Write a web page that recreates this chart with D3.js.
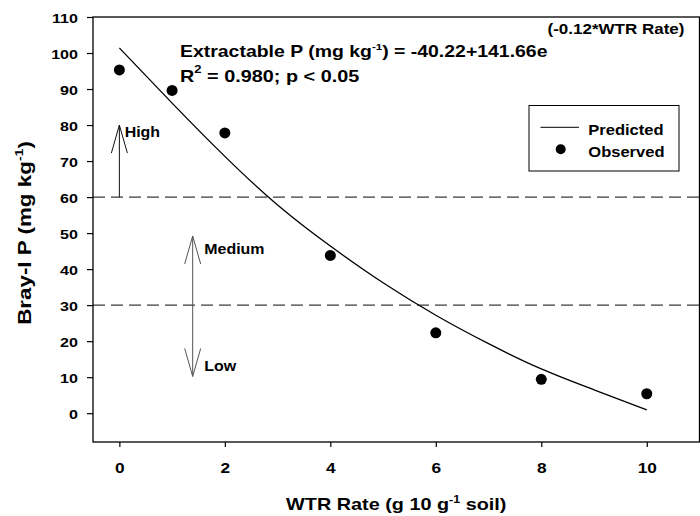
<!DOCTYPE html>
<html>
<head>
<meta charset="utf-8">
<script src="https://cdn.jsdelivr.net/npm/d3@7/dist/d3.min.js"></script>
<style>
  html, body { margin: 0; padding: 0; background: #fff; }
  svg { display: block; }
  text { font-family: "Liberation Sans", Arial, Helvetica, sans-serif; font-weight: bold; fill: #000; }
</style>
</head>
<body>
<svg id="chart" width="700" height="516"></svg>
<script>
// ---------- data ----------
const xTicks = [0, 2, 4, 6, 8, 10];
const yTicks = [0, 10, 20, 30, 40, 50, 60, 70, 80, 90, 100, 110];
const obsRate = [0, 1, 2, 4, 6, 8, 10];
const obsP = [95.3, 89.6, 77.8, 43.8, 22.3, 9.4, 5.4];
const predRate = [0, 1, 2, 3, 4, 5, 6, 7, 8, 9, 10];
const predP = [101.4, 86.1, 71.3, 57.8, 46.4, 36.2, 27.2, 19.3, 12.3, 6.5, 0.9];
const thresholds = [60, 30];
const levelLabels = ["High", "Medium", "Low"];

// ---------- layout ----------
const svg = d3.select("#chart");
const plot = { left: 93, right: 699.5, top: 17, bottom: 442 };
const K = 1.24; // horizontal stretch of the lettering

const x = d3.scaleLinear().domain([-0.5, 11]).range([plot.left, plot.right]);
const y = d3.scaleLinear().domain([-8, 110]).range([plot.bottom, plot.top]);

// text helper: parts = [{t, size, raise}]
function label(parent, px, py, parts, opts) {
  const g = parent.append("g")
    .attr("transform", `translate(${px},${py}) rotate(${opts.rot || 0}) scale(${opts.k || K},1)`);
  const t = g.append("text").attr("text-anchor", opts.anchor || "start")
    .attr("font-size", opts.size);
  let cur = 0;
  parts.forEach(p => {
    const r = p.raise || 0;
    const ts = t.append("tspan").text(p.t).attr("dy", -(r - cur));
    if (p.size) ts.attr("font-size", p.size);
    cur = r;
  });
  return g;
}

// ---------- threshold dashed lines ----------
svg.append("g").selectAll("line").data(thresholds).join("line")
  .attr("x1", plot.left).attr("x2", plot.right)
  .attr("y1", d => y(d)).attr("y2", d => y(d))
  .attr("stroke", "#3a3a3a").attr("stroke-width", 1.2)
  .attr("stroke-dasharray", "12,6");

// ---------- level arrows ----------
function arrowHead(g, xv, yv, dir) {
  // dir = -1 pointing up, +1 pointing down
  const px = x(xv), py = y(yv);
  g.append("path")
    .attr("d", `M${px - 8},${py - dir * 28}L${px},${py}L${px + 8},${py - dir * 28}`)
    .attr("fill", "none");
}
const arrows = svg.append("g").attr("stroke-width", 1);
const aHigh = arrows.append("g").attr("stroke", "#111");
aHigh.append("line").attr("x1", x(0)).attr("x2", x(0)).attr("y1", y(60)).attr("y2", y(80));
arrowHead(aHigh, 0, 80, -1);
const aMid = arrows.append("g").attr("stroke", "#555");
aMid.append("line").attr("x1", x(1.39)).attr("x2", x(1.39)).attr("y1", y(49.2)).attr("y2", y(10.2));
arrowHead(aMid, 1.39, 49.2, -1);
arrowHead(aMid, 1.39, 10.2, 1);

label(svg, x(0.1), y(76.6), [{ t: levelLabels[0] }], { size: 14.5, k: 1.1 });
label(svg, x(1.61), y(44.2), [{ t: levelLabels[1] }], { size: 14.5, k: 1.1 });
label(svg, x(1.61), y(11.7), [{ t: levelLabels[2] }], { size: 14.5, k: 1.1 });

// ---------- predicted curve ----------
const line = d3.line().x((d, i) => x(predRate[i])).y(d => y(d)).curve(d3.curveNatural);
svg.append("path").datum(predP).attr("d", line)
  .attr("fill", "none").attr("stroke", "#000").attr("stroke-width", 1.3);

// ---------- observed points ----------
svg.append("g").selectAll("circle").data(obsP).join("circle")
  .attr("cx", (d, i) => x(obsRate[i])).attr("cy", d => y(d)).attr("r", 5.5)
  .attr("fill", "#000");

// ---------- frame & axes ----------
svg.append("rect")
  .attr("x", plot.left).attr("y", plot.top)
  .attr("width", plot.right - plot.left).attr("height", plot.bottom - plot.top)
  .attr("fill", "none").attr("stroke", "#000").attr("stroke-width", 1.3);

const yAxis = svg.append("g").attr("transform", `translate(${plot.left},0)`)
  .call(d3.axisLeft(y).tickValues(yTicks).tickSize(6).tickSizeOuter(0));
yAxis.select(".domain").remove();
yAxis.selectAll("line").attr("stroke", "#000").attr("stroke-width", 1.2);
yAxis.selectAll("text")
  .attr("font-size", 13).attr("font-family", null)
  .attr("x", -15 / K).attr("dy", "0.4em")
  .attr("transform", `scale(${K},1)`);

const xAxis = svg.append("g").attr("transform", `translate(0,${plot.bottom})`)
  .call(d3.axisBottom(x).tickValues(xTicks).tickSize(5).tickSizeOuter(0));
xAxis.select(".domain").remove();
xAxis.selectAll("line").attr("stroke", "#000").attr("stroke-width", 1.2);
xAxis.selectAll("text")
  .attr("font-size", 15).attr("font-family", null)
  .attr("y", 31.5).attr("dy", 0)
  .attr("transform", "scale(1.15,1)")
  .attr("x", 0);

// ---------- axis titles ----------
label(svg, (plot.left + plot.right) / 2, 510,
  [{ t: "WTR Rate (g 10 g" }, { t: "-1", size: 10, raise: 7 }, { t: " soil)" }],
  { size: 16, anchor: "middle" });
label(svg, 31, 233,
  [{ t: "Bray-I P (mg kg" }, { t: "-1", size: 11, raise: 8 }, { t: ")" }],
  { size: 17.5, anchor: "middle", rot: -90, k: 1.28 });

// ---------- equation ----------
label(svg, 180, 56.5,
  [{ t: "Extractable P (mg kg" }, { t: "-1", size: 9.5, raise: 7 }, { t: ") = -40.22+141.66e" },
   { t: "(-0.12*WTR Rate)", size: 14, raise: 23 }],
  { size: 16, k: 1.215 });
label(svg, 180, 81.5,
  [{ t: "R" }, { t: "2", size: 10.5, raise: 9 }, { t: " = 0.980; p < 0.05" }],
  { size: 16 });

// ---------- legend ----------
const leg = svg.append("g");
leg.append("rect").attr("x", 529).attr("y", 105.5).attr("width", 150).attr("height", 65.5)
  .attr("fill", "#fff").attr("stroke", "#000").attr("stroke-width", 1);
leg.append("line").attr("x1", 540.5).attr("x2", 579).attr("y1", 127.3).attr("y2", 127.3)
  .attr("stroke", "#000").attr("stroke-width", 1);
leg.append("circle").attr("cx", 560.7).attr("cy", 149.3).attr("r", 5).attr("fill", "#000");
label(leg, 588.3, 135, [{ t: "Predicted" }], { size: 14.5, k: 1.14 });
label(leg, 588.3, 156.7, [{ t: "Observed" }], { size: 14.5, k: 1.14 });
</script>
</body>
</html>
